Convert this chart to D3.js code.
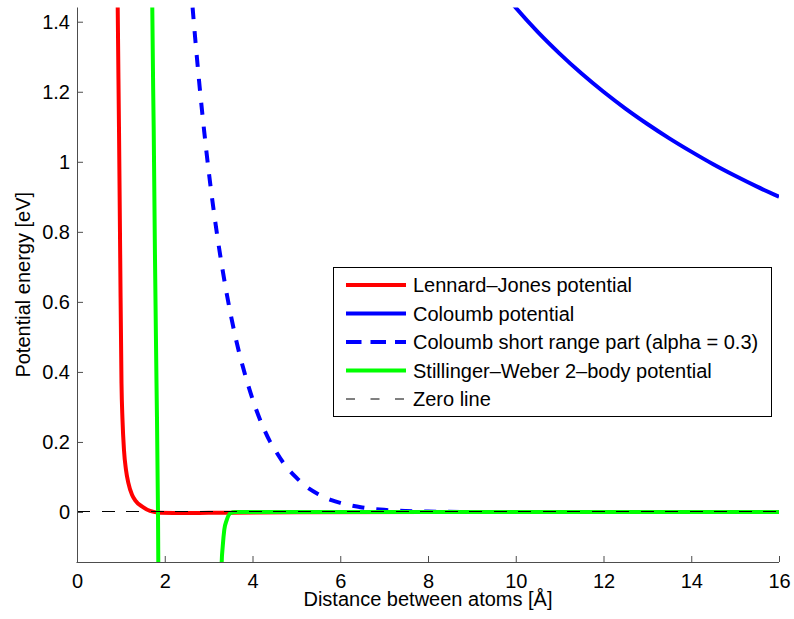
<!DOCTYPE html>
<html>
<head>
<meta charset="utf-8">
<script src="https://cdn.jsdelivr.net/npm/d3@7"></script>
<style>
  html, body { margin: 0; padding: 0; background: #fff; }
  svg text { font-family: "Liberation Sans", Arial, Helvetica, sans-serif; fill: #000; }
</style>
</head>
<body>
<svg id="chart" width="794" height="619"></svg>
<script>
// Lennard-Jones potential (distance in Å, energy in eV)
const ljR = [0.90, 0.928, 0.957, 0.985, 1.014, 1.037, 1.071, 1.117, 1.170, 1.254, 1.322, 1.504, 1.664, 1.89, 2.5, 3.0, 3.5, 5.0, 8.0, 16.0];
const ljE = [1.90, 1.440, 1.097, 0.725, 0.368, 0.263, 0.177, 0.120, 0.083, 0.049, 0.034, 0.014, 0.003, -0.002, -0.003, -0.0025, -0.002, -0.001, -0.0003, 0.0];

// Coulomb potential
const coulR = [9.5, 10, 10.5, 11, 11.5, 12, 12.5, 13, 13.5, 14, 14.5, 15, 15.5, 16];
const coulE = [1.516, 1.44, 1.371, 1.309, 1.252, 1.2, 1.152, 1.108, 1.067, 1.029, 0.993, 0.96, 0.929, 0.9];

// Short-range part of the Coulomb potential (alpha = 0.3)
const shortR = [2.4, 2.5, 2.6, 2.7, 2.8, 2.9, 3.0, 3.2, 3.4, 3.5, 3.7, 3.8, 4.0, 4.2, 4.4, 4.5, 4.7, 5.0, 5.2, 5.5, 5.8, 6.0, 6.5, 7.0, 7.5, 8.0, 9.0, 10.0, 16.0];
const shortE = [1.852, 1.664, 1.495, 1.344, 1.208, 1.086, 0.975, 0.786, 0.632, 0.566, 0.453, 0.406, 0.323, 0.255, 0.201, 0.180, 0.141, 0.098, 0.075, 0.051, 0.034, 0.026, 0.0128, 0.0061, 0.0028, 0.0012, 0.0002, 0.0, 0.0];

// Stillinger-Weber 2-body potential
const swR = [1.70, 1.716, 1.748, 1.778, 1.812, 1.846, 1.853, 1.87, 3.26, 3.298, 3.321, 3.357, 3.412, 3.503, 3.6, 16.0];
const swE = [1.80, 1.440, 1.097, 0.720, 0.368, 0.0, -0.143, -0.6, -0.6, -0.143, -0.099, -0.051, -0.023, -0.003, 0.0, 0.0];

// Zero reference line
const zeroR = [0, 16];
const zeroE = [0, 0];

const xTicks = [0, 2, 4, 6, 8, 10, 12, 14, 16];
const yTicks = [0, 0.2, 0.4, 0.6, 0.8, 1, 1.2, 1.4];
const yTickLabels = ["0", "0.2", "0.4", "0.6", "0.8", "1", "1.2", "1.4"];
const legendLabels = [
  "Lennard\u2013Jones potential",
  "Coloumb potential",
  "Coloumb short range part (alpha = 0.3)",
  "Stillinger\u2013Weber 2\u2013body potential",
  "Zero line"
];

const series = [
  { r: ljR, e: ljE, color: "#ff0000", width: 4, dash: null, legendDash: null, crisp: false },
  { r: coulR, e: coulE, color: "#0000ff", width: 4, dash: null, legendDash: null, crisp: false },
  { r: shortR, e: shortE, color: "#0000ff", width: 4, dash: "12,12", legendDash: "15.5,9", crisp: false },
  { r: swR, e: swE, color: "#00ff00", width: 4, dash: null, legendDash: null, crisp: false },
  { r: zeroR, e: zeroE, color: "#000000", width: 1, dash: "13,11.5", legendDash: "9,15.5", crisp: true }
];

const svg = d3.select("#chart");
const plotLeft = 77, plotRight = 779, plotTop = 7.5, plotBottom = 562;

const x = d3.scaleLinear().domain([0, 16]).range([plotLeft, plotRight]);
const y = d3.scaleLinear().domain([-0.1428, 1.4406]).range([plotBottom, plotTop]);

svg.append("defs").append("clipPath").attr("id", "plotClip")
  .append("rect")
  .attr("x", plotLeft).attr("y", plotTop)
  .attr("width", plotRight - plotLeft).attr("height", plotBottom - plotTop);

const plot = svg.append("g").attr("clip-path", "url(#plotClip)");

const line = d3.line()
  .x(d => x(d[0]))
  .y(d => y(d[1]))
  .curve(d3.curveMonotoneX);

series.forEach(s => {
  const pts = s.r.map((r, i) => [r, s.e[i]]);
  plot.append("path")
    .attr("d", line(pts))
    .attr("fill", "none")
    .attr("stroke", s.color)
    .attr("stroke-width", s.width)
    .attr("stroke-dasharray", s.dash)
    .attr("stroke-linejoin", "round")
    .attr("shape-rendering", s.crisp ? "crispEdges" : null);
});

// Axes (left and bottom only, ticks pointing inward)
const axisColor = "#4d4d4d";
const xAxis = svg.append("g").attr("transform", `translate(0,${plotBottom})`)
  .call(d3.axisBottom(x).tickValues(xTicks).tickSizeInner(-6).tickSizeOuter(0).tickPadding(11.5).tickFormat(d3.format("d")));
const yAxis = svg.append("g").attr("transform", `translate(${plotLeft},0)`)
  .call(d3.axisLeft(y).tickValues(yTicks).tickSizeInner(-6).tickSizeOuter(0).tickPadding(7)
    .tickFormat((d, i) => yTickLabels[i]));

[xAxis, yAxis].forEach(g => {
  g.select(".domain").attr("stroke", axisColor).attr("stroke-width", 1);
  g.selectAll(".tick line").attr("stroke", axisColor).attr("stroke-width", 1);
  g.selectAll(".tick text").attr("font-size", 20).attr("fill", "#000")
    .attr("font-family", "Liberation Sans, Arial, sans-serif");
});
// bottom axis spans the full plot width
xAxis.select(".domain").attr("d", `M${plotLeft - 0.5},0.5H${plotRight}`);
yAxis.select(".domain").attr("d", `M0.5,${plotTop}V${plotBottom}`);
xAxis.selectAll(".tick text").attr("dy", "0.71em");

// Axis titles
svg.append("text")
  .attr("x", (plotLeft + plotRight) / 2).attr("y", 606)
  .attr("text-anchor", "middle").attr("font-size", 20)
  .text("Distance between atoms [\u00C5]");

svg.append("text")
  .attr("transform", `translate(30,${(plotTop + plotBottom) / 2}) rotate(-90)`)
  .attr("text-anchor", "middle").attr("font-size", 20)
  .text("Potential energy [eV]");

// Legend
const lg = svg.append("g");
lg.append("rect")
  .attr("x", 333.5).attr("y", 267.5).attr("width", 438).attr("height", 149)
  .attr("fill", "#fff").attr("stroke", "#000").attr("stroke-width", 1);

series.forEach((s, i) => {
  const ry = 285 + i * 28.5;
  lg.append("line")
    .attr("x1", 346).attr("x2", 406).attr("y1", ry).attr("y2", ry)
    .attr("stroke", s.color).attr("stroke-width", s.width)
    .attr("stroke-dasharray", s.legendDash);
  lg.append("text")
    .attr("x", 413).attr("y", ry).attr("dy", "0.37em")
    .attr("font-size", 20)
    .text(legendLabels[i]);
});
</script>
</body>
</html>
